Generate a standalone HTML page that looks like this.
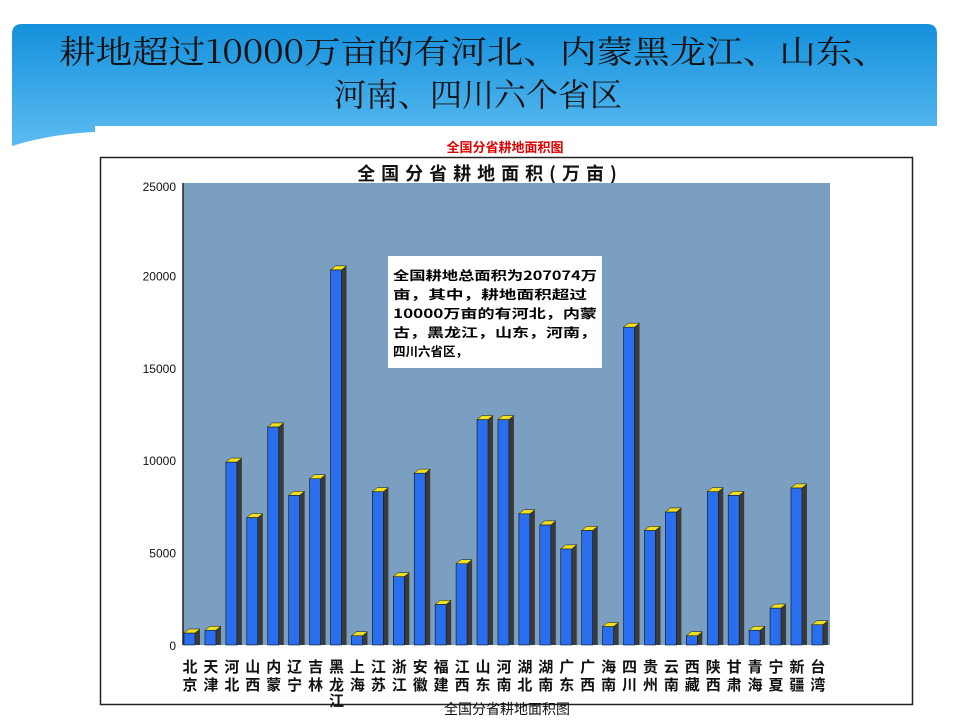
<!DOCTYPE html>
<html><head><meta charset="utf-8"><style>
html,body{margin:0;padding:0;background:#fff;}
body{width:960px;height:720px;overflow:hidden;position:relative;font-family:"Liberation Sans","Noto Sans CJK SC",sans-serif;}
</style></head><body>
<svg id="s" width="960" height="720" xmlns="http://www.w3.org/2000/svg" style="position:absolute;left:0;top:0">
<defs>
<linearGradient id="hg" x1="0" y1="0" x2="0" y2="1">
<stop offset="0" stop-color="#1490dc"/><stop offset="1" stop-color="#5cbcf0"/></linearGradient>
</defs>
<path d="M12,34 Q12,24 22,24 L927,24 Q937,24 937,34 L937,126 L95,126 L95,132 Q50,134 12,146 Z" fill="url(#hg)"/>
<text x="474" y="63" font-family="'Noto Serif CJK SC','Noto Sans CJK SC',serif" font-size="32" text-anchor="middle" fill="#111" textLength="830" lengthAdjust="spacingAndGlyphs">耕地超过10000万亩的有河北、内蒙黑龙江、山东、</text>
<text x="478" y="106" font-family="'Noto Serif CJK SC','Noto Sans CJK SC',serif" font-size="32" text-anchor="middle" fill="#111">河南、四川六个省区</text>
<text x="505" y="152" font-size="13" font-weight="bold" fill="#e00000" text-anchor="middle" font-family="'Noto Sans CJK SC',sans-serif">全国分省耕地面积图</text>
<rect x="100.5" y="157.5" width="812" height="547" fill="#fff" stroke="#222" stroke-width="1.5"/>
<text x="490" y="180" font-size="18" font-weight="bold" fill="#111" text-anchor="middle" font-family="'Noto Sans CJK SC',sans-serif" letter-spacing="6">全国分省耕地面积(万亩)</text>
<rect x="183" y="183" width="647" height="462" fill="#7b9fc0"/>
<line x1="183" y1="183" x2="183" y2="645" stroke="#222" stroke-width="1.5"/>
<g id="ax" font-size="12" fill="#111" text-anchor="end"></g>
<g id="bars"></g>
<g id="lab" font-size="15" font-weight="bold" fill="#111" text-anchor="middle" font-family="'Noto Sans CJK SC',sans-serif"></g>
<rect x="388" y="256" width="214" height="112" fill="#fff"/>
<g font-size="12.5" font-weight="bold" fill="#000" font-family="'Noto Sans CJK SC',sans-serif">
<text x="393" y="280" textLength="204" lengthAdjust="spacingAndGlyphs">全国耕地总面积为207074万</text>
<text x="393" y="299" textLength="194" lengthAdjust="spacingAndGlyphs">亩，其中，耕地面积超过</text>
<text x="393" y="318" textLength="204" lengthAdjust="spacingAndGlyphs">10000万亩的有河北，内蒙</text>
<text x="393" y="337" textLength="204" lengthAdjust="spacingAndGlyphs">古，黑龙江，山东，河南，</text>
<text x="393" y="356">四川六省区，</text>
</g>
<text x="507" y="714" font-size="14" fill="#111" text-anchor="middle" font-family="'Noto Sans CJK SC',sans-serif">全国分省耕地面积图</text>
</svg>
<script>
var NS="http://www.w3.org/2000/svg";
function el(t,a,p,txt){var e=document.createElementNS(NS,t);for(var k in a)e.setAttribute(k,a[k]);if(txt!=null)e.textContent=txt;document.getElementById(p).appendChild(e);return e;}
for(var v=0;v<=25000;v+=5000){var y=645-v*462/25000;el('text',{x:176,y:y+(v==25000?8:5)},'ax',String(v));}
var d=[["北","京",650],["天","津",800],["河","北",9900],["山","西",6900],["内","蒙",11800],["辽","宁",8100],["吉","林",9000],["黑","龙",20300,"江"],["上","海",500],["江","苏",8300],["浙","江",3700],["安","徽",9300],["福","建",2200],["江","西",4400],["山","东",12200],["河","南",12200],["湖","北",7100],["湖","南",6500],["广","东",5200],["广","西",6200],["海","南",1000],["四","川",17200],["贵","州",6200],["云","南",7200],["西","藏",500],["陕","西",8300],["甘","肃",8100],["青","海",800],["宁","夏",2000],["新","疆",8500],["台","湾",1100]];
var x0=190,dx=20.93;
d.forEach(function(r,i){var cx=x0+i*dx;var h=r[2]*462/25000;var top=645-h;
var l=cx-6,w=11;
el('polygon',{points:(l+w)+","+top+" "+(l+w+5)+","+(top-4)+" "+(l+w+5)+","+645+" "+(l+w)+","+645,fill:"#3a3a3a"},'bars');
el('rect',{x:l,y:top,width:w,height:h,fill:"#2a6ef0",stroke:"#111","stroke-width":0.6},'bars');
el('polygon',{points:l+","+top+" "+(l+5)+","+(top-4)+" "+(l+w+5)+","+(top-4)+" "+(l+w)+","+top,fill:"#f0e020",stroke:"#111","stroke-width":0.5},'bars');
el('text',{x:cx,y:672},'lab',r[0]);el('text',{x:cx,y:690},'lab',r[1]);if(r[3])el('text',{x:cx,y:706},'lab',r[3]);});
</script>
</body></html>
